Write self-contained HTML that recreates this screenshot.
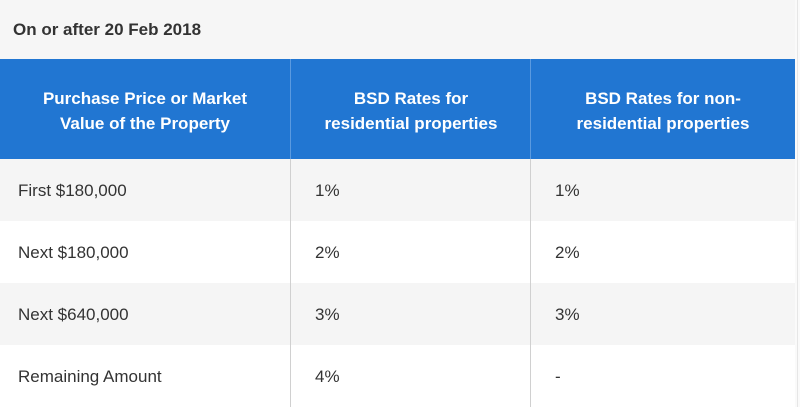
<!DOCTYPE html>
<html>
<head>
<meta charset="utf-8">
<style>
  html,body{margin:0;padding:0;}
  body{width:800px;height:407px;overflow:hidden;background:#f6f6f6;font-family:"Liberation Sans",Arial,sans-serif;position:relative;}
  .title{position:absolute;left:13px;top:20px;font-size:17px;font-weight:bold;color:#333;line-height:20px;}
  .hdr{position:absolute;left:0;top:59px;width:795px;height:100px;background:#2176d2;}
  .hcell{position:absolute;top:61px;height:100px;display:flex;align-items:center;justify-content:center;text-align:center;color:#fff;font-weight:bold;font-size:17px;line-height:25px;}
  .row{position:absolute;left:0;width:795px;height:62px;}
  .g{background:#f5f5f5;}
  .w{background:#fff;}
  .c{position:absolute;font-size:17px;color:#333;line-height:20px;}
  .vl{position:absolute;width:1px;background:#d0d0d0;top:59px;height:348px;}
  .vlh{position:absolute;width:1px;background:#5a9ae0;top:59px;height:100px;}
  .edge{position:absolute;left:795px;top:0;width:5px;height:407px;background:#fafafa;}
  .edgel{position:absolute;left:797px;top:0;width:1px;height:407px;background:#e6e6e6;}
</style>
</head>
<body>
<div class="title">On or after 20 Feb 2018</div>
<div class="hdr"></div>
<div class="hcell" style="left:0;width:290px;">Purchase Price or Market<br>Value of the Property</div>
<div class="hcell" style="left:291px;width:240px;">BSD Rates for<br>residential properties</div>
<div class="hcell" style="left:531px;width:264px;">BSD Rates for non-<br>residential properties</div>

<div class="row g" style="top:159px;"></div>
<div class="row w" style="top:221px;"></div>
<div class="row g" style="top:283px;"></div>
<div class="row w" style="top:345px;"></div>

<div class="vl" style="left:290px;"></div>
<div class="vl" style="left:530px;"></div>
<div class="vlh" style="left:290px;"></div>
<div class="vlh" style="left:530px;"></div>

<div class="c" style="left:18px;top:181px;">First $180,000</div>
<div class="c" style="left:315px;top:181px;">1%</div>
<div class="c" style="left:555px;top:181px;">1%</div>

<div class="c" style="left:18px;top:243px;">Next $180,000</div>
<div class="c" style="left:315px;top:243px;">2%</div>
<div class="c" style="left:555px;top:243px;">2%</div>

<div class="c" style="left:18px;top:305px;">Next $640,000</div>
<div class="c" style="left:315px;top:305px;">3%</div>
<div class="c" style="left:555px;top:305px;">3%</div>

<div class="c" style="left:18px;top:367px;">Remaining Amount</div>
<div class="c" style="left:315px;top:367px;">4%</div>
<div class="c" style="left:555px;top:367px;">-</div>

<div class="edge"></div>
<div class="edgel"></div>
</body>
</html>
